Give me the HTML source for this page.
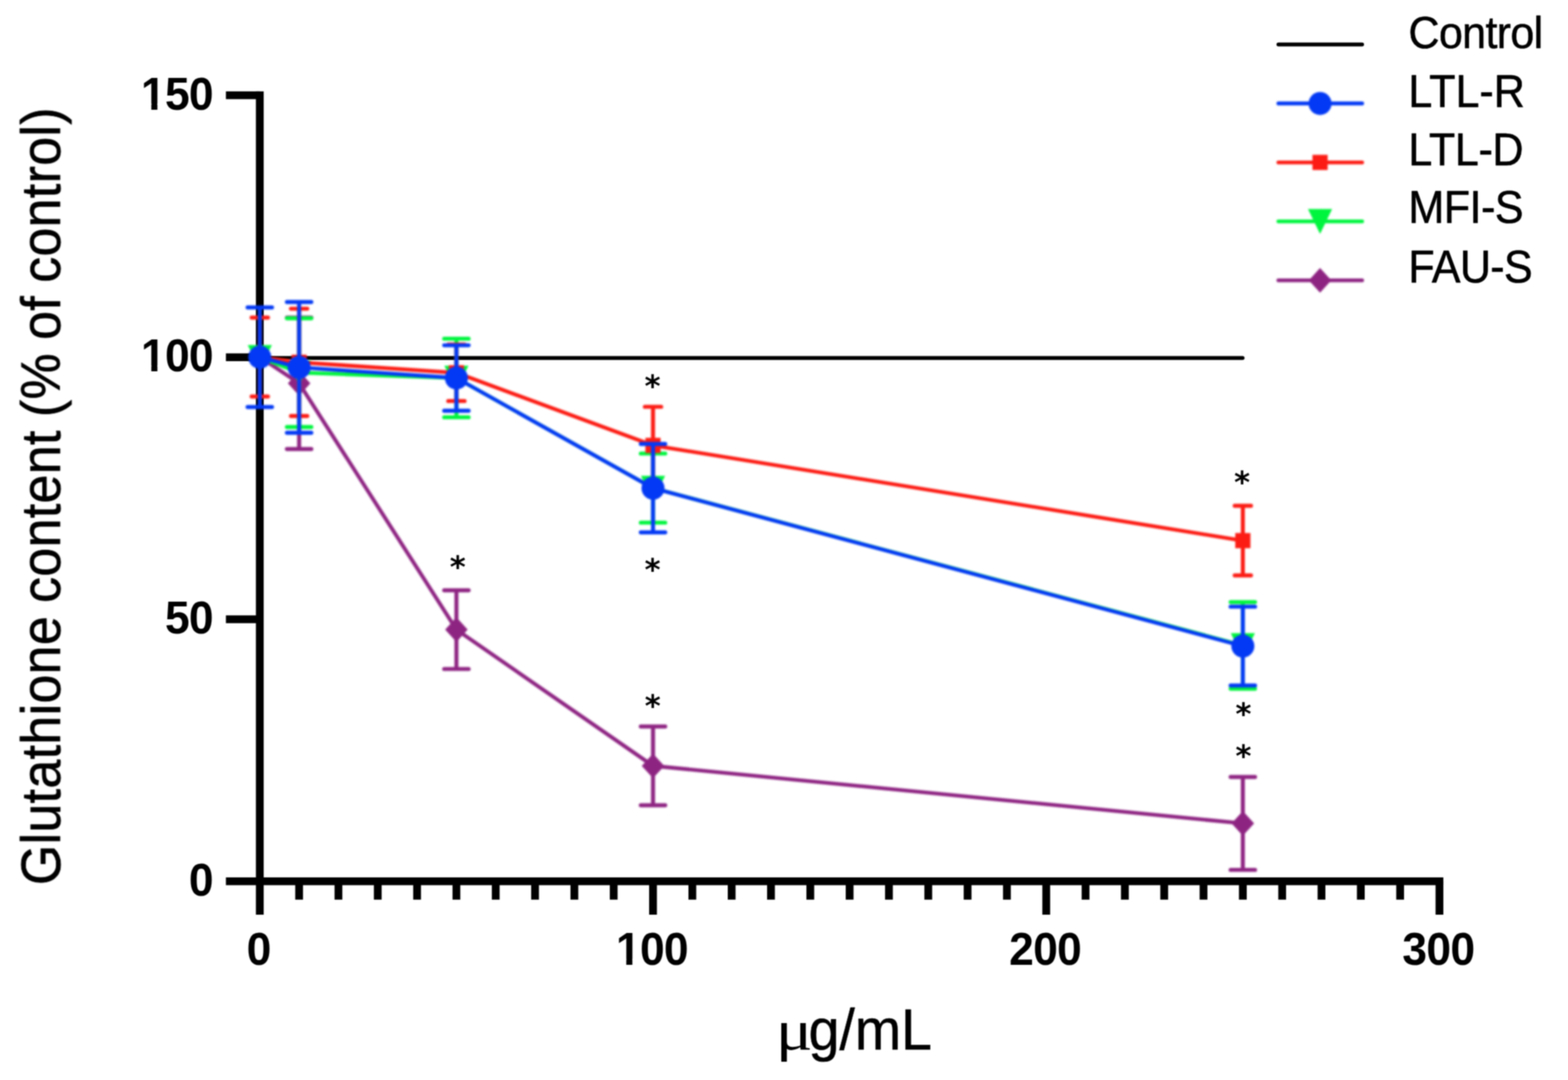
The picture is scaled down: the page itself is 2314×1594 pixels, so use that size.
<!DOCTYPE html>
<html lang="en"><head><meta charset="utf-8"><title>Glutathione content (% of control)</title>
<style>html,body{margin:0;padding:0;background:#fff;overflow:hidden}svg{display:block;font-family:"Liberation Sans",sans-serif}text{fill:#000}.tk{font-weight:bold;font-size:65.5px;letter-spacing:-1px}.lb{font-size:81px;stroke:#000;stroke-width:.7px;stroke-linejoin:round}.lg{font-size:63.5px;stroke:#000;stroke-width:.7px;stroke-linejoin:round}.yl{font-size:81.5px;word-spacing:-2.6px;stroke:#000;stroke-width:.9px;stroke-linejoin:round}.mu{font-family:"Liberation Serif","DejaVu Serif",serif;font-size:82px}.as{font-family:"DejaVu Sans","Liberation Sans",sans-serif;font-weight:bold;font-size:45px}</style></head><body>
<svg xmlns="http://www.w3.org/2000/svg" width="2314" height="1594" viewBox="0 0 2314 1594">
<defs>
<filter id="soft" x="0" y="0" width="2314" height="1594" filterUnits="userSpaceOnUse" color-interpolation-filters="sRGB"><feConvolveMatrix order="3" kernelMatrix="0.0324 0.1152 0.0324 0.1152 0.4096 0.1152 0.0324 0.1152 0.0324" divisor="1" edgeMode="duplicate" preserveAlpha="false"/><feConvolveMatrix order="3" kernelMatrix="0.0324 0.1152 0.0324 0.1152 0.4096 0.1152 0.0324 0.1152 0.0324" divisor="1" edgeMode="duplicate" preserveAlpha="false"/></filter>
<filter id="softc" x="0" y="0" width="2314" height="1594" filterUnits="userSpaceOnUse" color-interpolation-filters="sRGB"><feGaussianBlur stdDeviation="1.4"/></filter>
</defs>
<rect width="2314" height="1594" fill="#fff"/>
<g id="axes" filter="url(#soft)">
<line x1="383.4" y1="528.3" x2="1833.75" y2="528.3" stroke="#000" stroke-width="5.8" stroke-linecap="round"/>
<g fill="#000">
<rect x="377.65" y="134.85" width="11.5" height="1215.15"/>
<rect x="333.4" y="1294.95" width="1796.65" height="11.5"/>
<rect x="333.4" y="908.25" width="50" height="11.5"/>
<rect x="333.4" y="521.55" width="50" height="11.5"/>
<rect x="333.4" y="134.85" width="50" height="11.5"/>
<rect x="435.68" y="1300.7" width="11.5" height="27.1"/>
<rect x="493.71" y="1300.7" width="11.5" height="27.1"/>
<rect x="551.74" y="1300.7" width="11.5" height="27.1"/>
<rect x="609.77" y="1300.7" width="11.5" height="27.1"/>
<rect x="667.8" y="1300.7" width="11.5" height="27.1"/>
<rect x="725.83" y="1300.7" width="11.5" height="27.1"/>
<rect x="783.86" y="1300.7" width="11.5" height="27.1"/>
<rect x="841.89" y="1300.7" width="11.5" height="27.1"/>
<rect x="899.92" y="1300.7" width="11.5" height="27.1"/>
<rect x="957.95" y="1300.7" width="11.5" height="49.3"/>
<rect x="1015.98" y="1300.7" width="11.5" height="27.1"/>
<rect x="1074.01" y="1300.7" width="11.5" height="27.1"/>
<rect x="1132.04" y="1300.7" width="11.5" height="27.1"/>
<rect x="1190.07" y="1300.7" width="11.5" height="27.1"/>
<rect x="1248.1" y="1300.7" width="11.5" height="27.1"/>
<rect x="1306.13" y="1300.7" width="11.5" height="27.1"/>
<rect x="1364.16" y="1300.7" width="11.5" height="27.1"/>
<rect x="1422.19" y="1300.7" width="11.5" height="27.1"/>
<rect x="1480.22" y="1300.7" width="11.5" height="27.1"/>
<rect x="1538.25" y="1300.7" width="11.5" height="49.3"/>
<rect x="1596.28" y="1300.7" width="11.5" height="27.1"/>
<rect x="1654.31" y="1300.7" width="11.5" height="27.1"/>
<rect x="1712.34" y="1300.7" width="11.5" height="27.1"/>
<rect x="1770.37" y="1300.7" width="11.5" height="27.1"/>
<rect x="1828.4" y="1300.7" width="11.5" height="27.1"/>
<rect x="1886.43" y="1300.7" width="11.5" height="27.1"/>
<rect x="1944.46" y="1300.7" width="11.5" height="27.1"/>
<rect x="2002.49" y="1300.7" width="11.5" height="27.1"/>
<rect x="2060.52" y="1300.7" width="11.5" height="27.1"/>
<rect x="2118.55" y="1300.7" width="11.5" height="49.3"/>
</g>
</g>
<g id="series" filter="url(#softc)">
<g stroke="#8e2482" fill="none" stroke-linecap="round">
<polyline points="383.4,527 441.43,565.7 673.55,929.3 963.7,1130.4 1834.15,1215.3" stroke-width="5.6" stroke-linejoin="round"/>
<path d="M441.43 468.7V662.7M423.38 468.7H459.48M423.38 662.7H459.48M673.55 871.2V987.4M655.5 871.2H691.6M655.5 987.4H691.6M963.7 1072.3V1188.5M945.65 1072.3H981.75M945.65 1188.5H981.75M1834.15 1146.7V1283.9M1816.1 1146.7H1852.2M1816.1 1283.9H1852.2" stroke-width="5.9"/>
</g>
<path d="M383.4 508.8L400 527L383.4 545.2L366.8 527Z" fill="#8e2482"/>
<path d="M441.43 547.5L458.03 565.7L441.43 583.9L424.83 565.7Z" fill="#8e2482"/>
<path d="M673.55 911.1L690.15 929.3L673.55 947.5L656.95 929.3Z" fill="#8e2482"/>
<path d="M963.7 1112.2L980.3 1130.4L963.7 1148.6L947.1 1130.4Z" fill="#8e2482"/>
<path d="M1834.15 1197.1L1850.75 1215.3L1834.15 1233.5L1817.55 1215.3Z" fill="#8e2482"/>
<g stroke="#00f53e" fill="none" stroke-linecap="round">
<polyline points="383.4,527.4 441.43,550 673.55,557.9 963.7,720.4 1834.15,952.6" stroke-width="5.6" stroke-linejoin="round"/>
<path d="M441.43 469.8V630.2M423.38 469.8H459.48M423.38 630.2H459.48M673.55 499.9V615.9M655.5 499.9H691.6M655.5 615.9H691.6M963.7 669.4V771.4M945.65 669.4H981.75M945.65 771.4H981.75M1834.15 888.6V1016.6M1816.1 888.6H1852.2M1816.1 1016.6H1852.2" stroke-width="5.9"/>
</g>
<path d="M365.6 509.2H401.2L383.4 545.8Z" fill="#00f53e"/>
<path d="M423.63 531.8H459.23L441.43 568.4Z" fill="#00f53e"/>
<path d="M655.75 539.7H691.35L673.55 576.3Z" fill="#00f53e"/>
<path d="M945.9 702.2H981.5L963.7 738.8Z" fill="#00f53e"/>
<path d="M1816.35 934.4H1851.95L1834.15 971Z" fill="#00f53e"/>
<g stroke="#fc1c14" fill="none" stroke-linecap="round">
<polyline points="383.4,527 441.43,534.8 673.55,550.2 963.7,657.4 1834.15,797.9" stroke-width="5.6" stroke-linejoin="round"/>
<path d="M383.4 468.8V585.2M371.35 468.8H395.45M371.35 585.2H395.45M441.43 455.6V614M429.38 455.6H453.48M429.38 614H453.48M673.55 508.5V591.9M661.5 508.5H685.6M661.5 591.9H685.6M963.7 600.4V714.4M951.65 600.4H975.75M951.65 714.4H975.75M1834.15 746.5V849.3M1822.1 746.5H1846.2M1822.1 849.3H1846.2" stroke-width="5.9"/>
</g>
<rect x="372.2" y="515.8" width="22.4" height="22.4" fill="#fc1c14"/>
<rect x="430.23" y="523.6" width="22.4" height="22.4" fill="#fc1c14"/>
<rect x="662.35" y="539" width="22.4" height="22.4" fill="#fc1c14"/>
<rect x="952.5" y="646.2" width="22.4" height="22.4" fill="#fc1c14"/>
<rect x="1822.95" y="786.7" width="22.4" height="22.4" fill="#fc1c14"/>
<g stroke="#0339f4" fill="none" stroke-linecap="round">
<polyline points="383.4,527.2 441.43,542.3 673.55,557.9 963.7,720.5 1834.15,953.6" stroke-width="5.6" stroke-linejoin="round"/>
<path d="M383.4 453.7V600.7M365.35 453.7H401.45M365.35 600.7H401.45M441.43 445.8V638.8M423.38 445.8H459.48M423.38 638.8H459.48M673.55 509.6V606.2M655.5 509.6H691.6M655.5 606.2H691.6M963.7 655.3V785.7M945.65 655.3H981.75M945.65 785.7H981.75M1834.15 895.4V1011.8M1816.1 895.4H1852.2M1816.1 1011.8H1852.2" stroke-width="5.9"/>
</g>
<circle cx="383.4" cy="527.2" r="17" fill="#0339f4"/>
<circle cx="441.43" cy="542.3" r="17" fill="#0339f4"/>
<circle cx="673.55" cy="557.9" r="17" fill="#0339f4"/>
<circle cx="963.7" cy="720.5" r="17" fill="#0339f4"/>
<circle cx="1834.15" cy="953.6" r="17" fill="#0339f4"/>
<line x1="1886.6" y1="152.65" x2="2010.2" y2="152.65" stroke="#0339f4" stroke-width="5.6" stroke-linecap="round"/>
<circle cx="1948.1" cy="152.65" r="17" fill="#0339f4"/>
<line x1="1886.6" y1="239.7" x2="2010.2" y2="239.7" stroke="#fc1c14" stroke-width="5.6" stroke-linecap="round"/>
<rect x="1936.9" y="228.5" width="22.4" height="22.4" fill="#fc1c14"/>
<line x1="1886.6" y1="326.75" x2="2010.2" y2="326.75" stroke="#00f53e" stroke-width="5.6" stroke-linecap="round"/>
<path d="M1930.3 308.55H1965.9L1948.1 345.15Z" fill="#00f53e"/>
<line x1="1886.6" y1="413.8" x2="2010.2" y2="413.8" stroke="#8e2482" stroke-width="5.6" stroke-linecap="round"/>
<path d="M1948.1 395.6L1964.7 413.8L1948.1 432L1931.5 413.8Z" fill="#8e2482"/>
</g>
<g id="labels" filter="url(#soft)">
<line x1="1886.7" y1="65.6" x2="2010.1" y2="65.6" stroke="#000" stroke-width="5.8" stroke-linecap="round"/>
<text class="as" text-anchor="middle" x="963" y="584.8">*</text>
<text class="as" text-anchor="middle" x="963" y="855.7">*</text>
<text class="as" text-anchor="middle" x="675.5" y="851.9">*</text>
<text class="as" text-anchor="middle" x="963.2" y="1056.8">*</text>
<text class="as" text-anchor="middle" x="1833.1" y="727">*</text>
<text class="as" text-anchor="middle" x="1834.9" y="1068.8">*</text>
<text class="as" text-anchor="middle" x="1834.9" y="1130.9">*</text>
<text class="tk" text-anchor="end" transform="translate(314.3 1321.6) scale(1 1.06)">0</text>
<text class="tk" text-anchor="end" transform="translate(314.3 934.9) scale(1 1.06)">50</text>
<text class="tk" text-anchor="end" transform="translate(314.3 548.2) scale(1 1.06)">100</text>
<path fill="#fff" d="M210.14 539.51H223.3V550.2H210.14ZM232.29 539.51H244.62V550.2H232.29Z"/>
<text class="tk" text-anchor="end" transform="translate(314.3 161.5) scale(1 1.06)">150</text>
<path fill="#fff" d="M210.14 152.81H223.3V163.5H210.14ZM232.29 152.81H244.62V163.5H232.29Z"/>
<text class="tk" text-anchor="middle" transform="translate(381.8 1424.2) scale(1 1.06)">0</text>
<text class="tk" text-anchor="middle" transform="translate(962.1 1424.2) scale(1 1.06)">100</text>
<path fill="#fff" d="M911.08 1415.51H924.25V1426.2H911.08ZM933.23 1415.51H945.56V1426.2H933.23Z"/>
<text class="tk" text-anchor="middle" transform="translate(1542.4 1424.2) scale(1 1.06)">200</text>
<text class="tk" text-anchor="middle" transform="translate(2122.7 1424.2) scale(1 1.06)">300</text>
<text class="yl" transform="translate(88.4 1306.4) rotate(-90) scale(0.939 1)" letter-spacing="0.57">Glutathione content (% of control)</text>
<text class="mu" text-anchor="end" transform="translate(1199.2 1549.2) scale(1.24 1.02)">μ</text>
<text class="lb" transform="translate(1193.2 1549.2) scale(1.012 1.05)">g/mL</text>
<text class="lg" text-anchor="start" transform="translate(2078.6 70.6) scale(1 1.04)" letter-spacing="-0.97">Control</text>
<text class="lg" text-anchor="start" transform="translate(2078.6 157.65) scale(1 1.066)">LTL-R</text>
<text class="lg" text-anchor="start" transform="translate(2078.6 244.4) scale(1 1.066)" letter-spacing="-0.45">LTL-D</text>
<text class="lg" text-anchor="start" transform="translate(2078.6 329.45) scale(1 1.066)" letter-spacing="-0.75">MFI-S</text>
<text class="lg" text-anchor="start" transform="translate(2078.6 416.8) scale(1 1.066)" letter-spacing="-0.9">FAU-S</text>
</g>
</svg></body></html>
